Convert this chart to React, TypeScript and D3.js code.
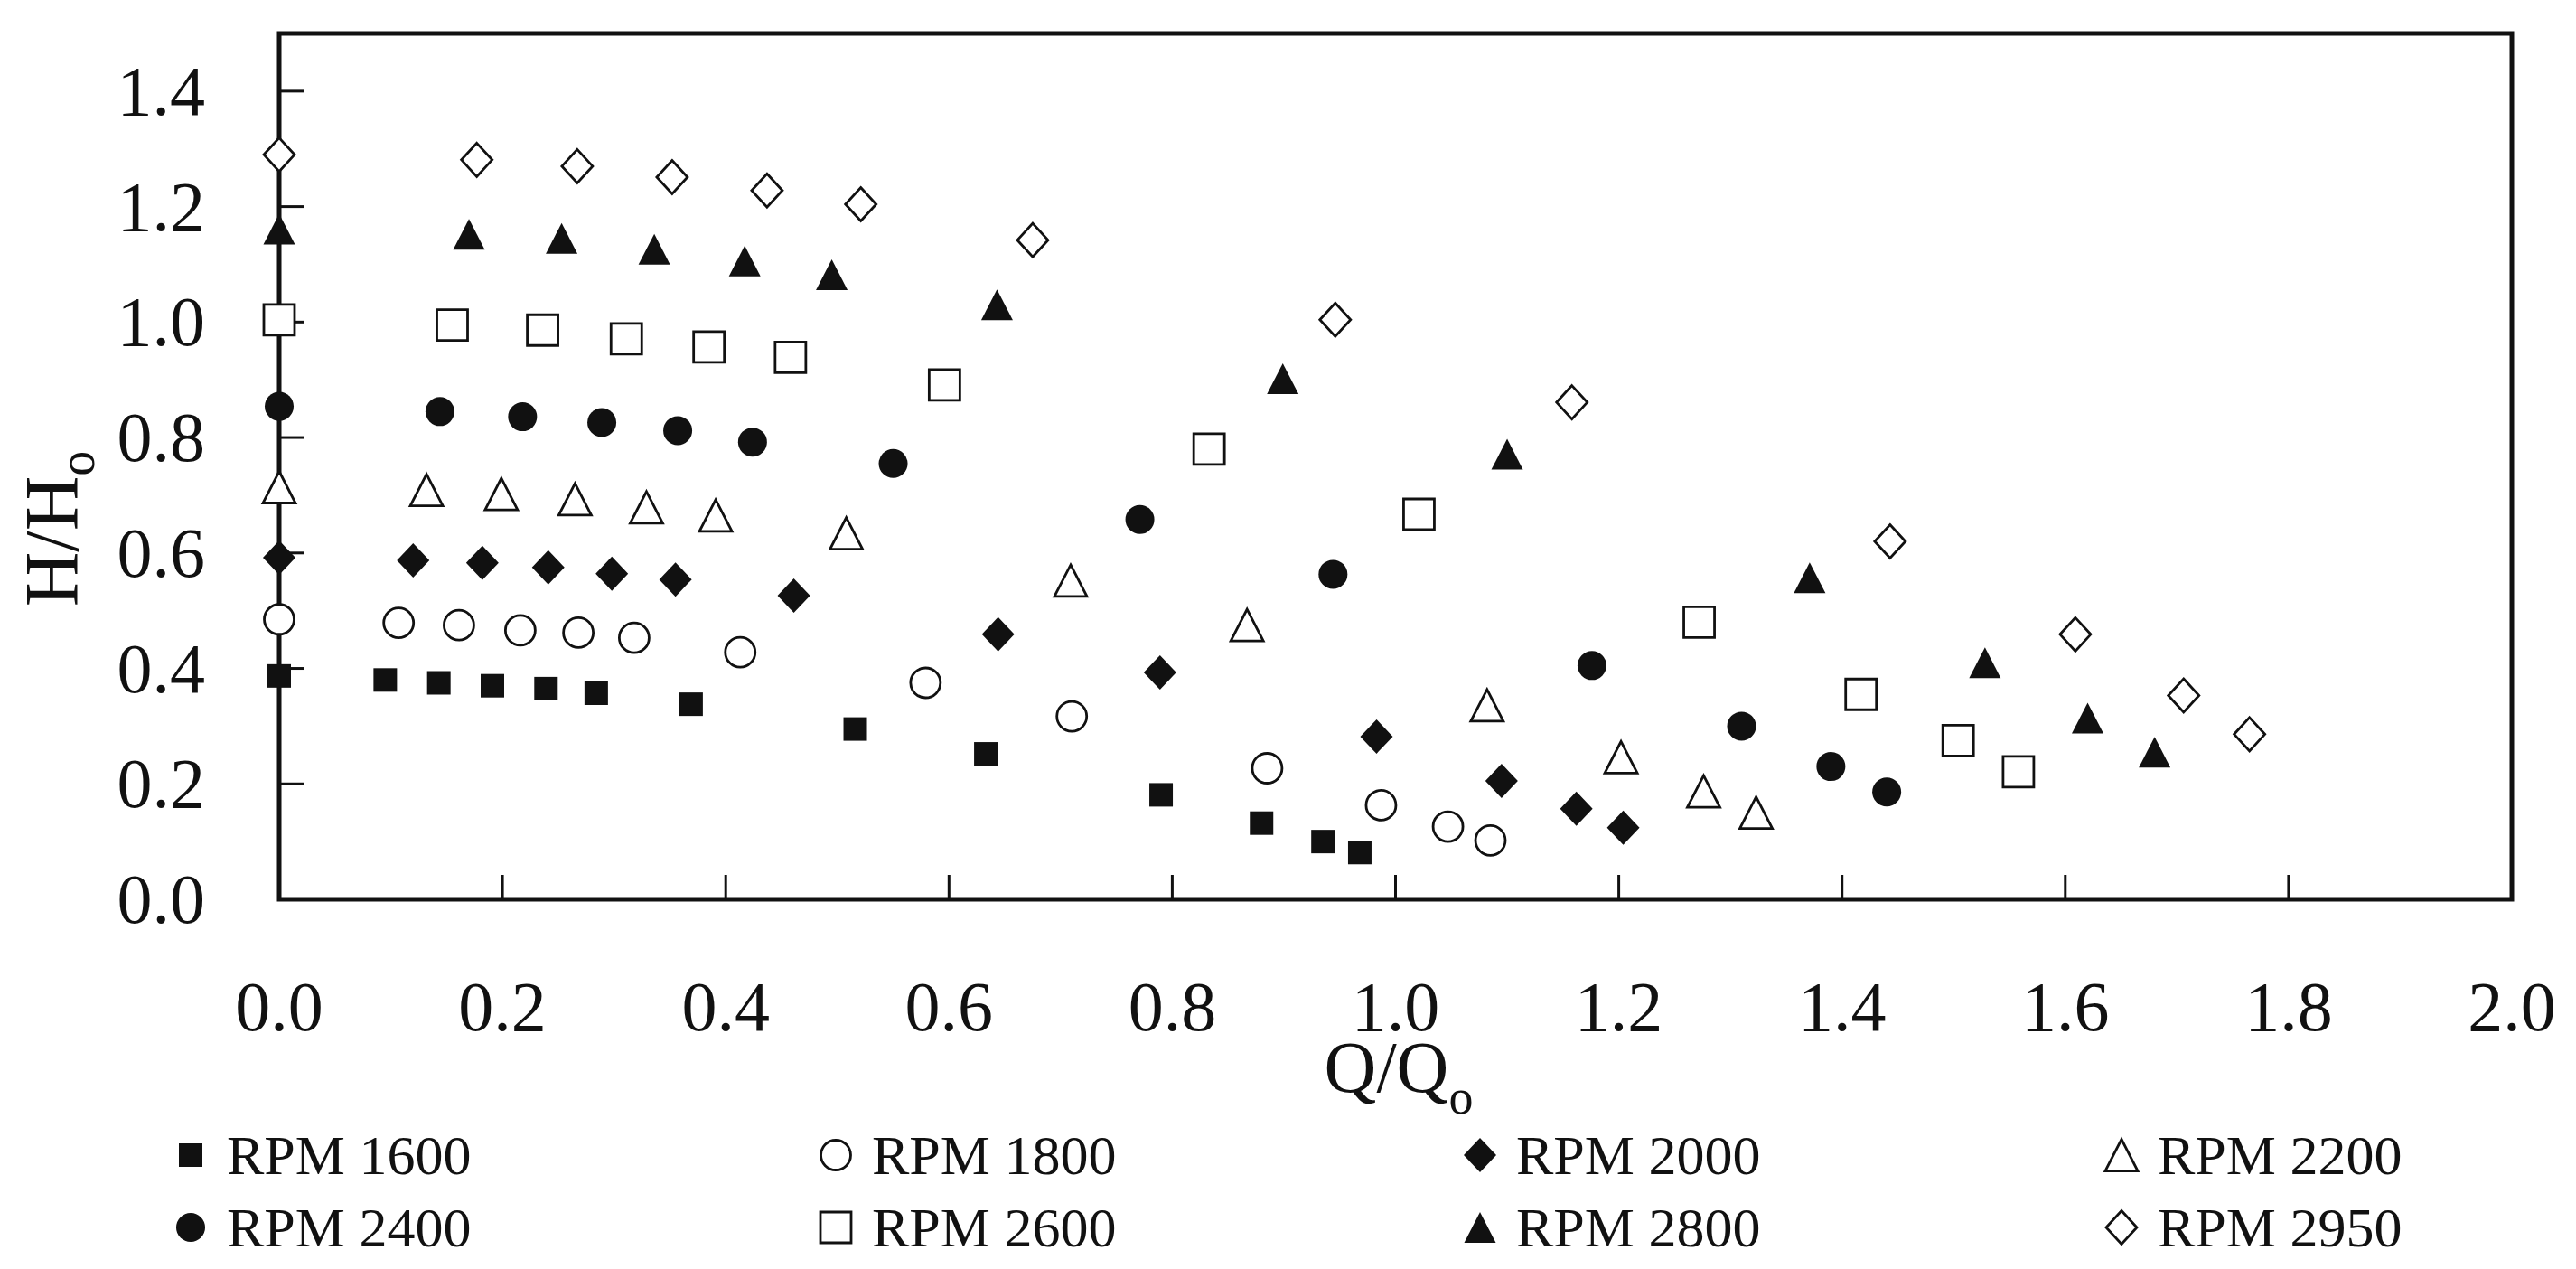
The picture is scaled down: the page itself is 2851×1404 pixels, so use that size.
import { useEffect, useRef } from 'react'
import * as d3 from 'd3'

const W = 2851
const H = 1404

const xTicks = [0, 0.2, 0.4, 0.6, 0.8, 1.0, 1.2, 1.4, 1.6, 1.8, 2.0]
const yTicks = [0, 0.2, 0.4, 0.6, 0.8, 1.0, 1.2, 1.4]

// Q/Qo and H/Ho, one pair per speed
const q1600 = [0, 0.095, 0.143, 0.191, 0.239, 0.284, 0.369, 0.516, 0.633, 0.790, 0.880, 0.935, 0.968]
const h1600 = [0.387, 0.380, 0.375, 0.370, 0.365, 0.357, 0.338, 0.295, 0.252, 0.181, 0.132, 0.100, 0.081]

const q1800 = [0, 0.107, 0.161, 0.216, 0.268, 0.318, 0.413, 0.579, 0.710, 0.885, 0.987, 1.047, 1.085]
const h1800 = [0.485, 0.479, 0.475, 0.466, 0.462, 0.453, 0.428, 0.375, 0.317, 0.227, 0.163, 0.126, 0.102]

const q2000 = [0, 0.120, 0.182, 0.241, 0.298, 0.355, 0.461, 0.644, 0.789, 0.983, 1.095, 1.162, 1.204]
const h2000 = [0.592, 0.587, 0.583, 0.575, 0.564, 0.554, 0.526, 0.459, 0.393, 0.282, 0.205, 0.157, 0.124]

const q2200 = [0, 0.132, 0.199, 0.265, 0.329, 0.391, 0.508, 0.709, 0.867, 1.082, 1.202, 1.276, 1.323]
const h2200 = [0.714, 0.709, 0.702, 0.693, 0.679, 0.665, 0.634, 0.552, 0.475, 0.336, 0.246, 0.187, 0.150]

const q2400 = [0, 0.144, 0.218, 0.289, 0.357, 0.424, 0.550, 0.771, 0.944, 1.176, 1.310, 1.390, 1.440]
const h2400 = [0.854, 0.845, 0.836, 0.826, 0.812, 0.792, 0.755, 0.658, 0.563, 0.405, 0.300, 0.230, 0.186]

const q2600 = [0, 0.155, 0.236, 0.311, 0.385, 0.458, 0.596, 0.833, 1.021, 1.272, 1.417, 1.504, 1.558]
const h2600 = [1.004, 0.995, 0.986, 0.971, 0.957, 0.939, 0.891, 0.780, 0.667, 0.480, 0.355, 0.275, 0.221]

const q2800 = [0, 0.170, 0.253, 0.336, 0.417, 0.495, 0.643, 0.899, 1.100, 1.371, 1.528, 1.620, 1.680]
const h2800 = [1.161, 1.152, 1.145, 1.126, 1.106, 1.082, 1.030, 0.902, 0.771, 0.557, 0.410, 0.314, 0.255]

const q2950 = [0, 0.177, 0.267, 0.352, 0.437, 0.521, 0.675, 0.946, 1.158, 1.443, 1.609, 1.706, 1.765]
const h2950 = [1.290, 1.281, 1.270, 1.251, 1.228, 1.204, 1.142, 1.004, 0.861, 0.620, 0.459, 0.353, 0.286]

const seriesLabels = ['RPM 1600', 'RPM 1800', 'RPM 2000', 'RPM 2200', 'RPM 2400', 'RPM 2600', 'RPM 2800', 'RPM 2950']

// custom marker outlines, "size" is not area here
const mkRect = (w: number, h: number) => ({
  draw(ctx: any) { ctx.rect(-w / 2, -h / 2, w, h) }
})
const mkCircle = (r: number) => ({
  draw(ctx: any) { ctx.moveTo(r, 0); ctx.arc(0, 0, r, 0, 2 * Math.PI) }
})
const mkDiamond = (w: number, h: number) => ({
  draw(ctx: any) {
    ctx.moveTo(0, -h / 2); ctx.lineTo(w / 2, 0); ctx.lineTo(0, h / 2); ctx.lineTo(-w / 2, 0); ctx.closePath()
  }
})
const mkTriangle = (w: number, h: number) => ({
  draw(ctx: any) {
    ctx.moveTo(0, -h / 2); ctx.lineTo(w / 2, h / 2); ctx.lineTo(-w / 2, h / 2); ctx.closePath()
  }
})

const series = [
  { q: q1600, h: h1600, type: mkRect(26, 26), filled: true },
  { q: q1800, h: h1800, type: mkCircle(16.5), filled: false },
  { q: q2000, h: h2000, type: mkDiamond(36, 38), filled: true },
  { q: q2200, h: h2200, type: mkTriangle(36, 35), filled: false },
  { q: q2400, h: h2400, type: mkCircle(16), filled: true },
  { q: q2600, h: h2600, type: mkRect(34, 34), filled: false },
  { q: q2800, h: h2800, type: mkTriangle(35, 34), filled: true },
  { q: q2950, h: h2950, type: mkDiamond(34, 37), filled: false },
]

const FONT = "'Liberation Serif', 'Times New Roman', serif"

export default function App() {
  const svgRef = useRef<SVGSVGElement>(null)

  useEffect(() => {
    const svg = d3.select(svgRef.current)
    svg.selectAll('*').remove()

    const left = 309, right = 2780, top = 37, bottom = 995
    const x = d3.scaleLinear().domain([0, 2]).range([left, right])
    const y = d3.scaleLinear().domain([0, 1.5]).range([bottom, top])
    const fmt = d3.format('.1f')

    svg.append('rect').attr('width', W).attr('height', H).attr('fill', '#fff')

    // inward ticks
    const tickLen = 27
    svg.append('g').selectAll('line')
      .data(xTicks.filter(d => d > 0 && d < 2))
      .join('line')
      .attr('x1', d => x(d)).attr('x2', d => x(d))
      .attr('y1', bottom).attr('y2', bottom - tickLen)
      .attr('stroke', '#111').attr('stroke-width', 3)
    svg.append('g').selectAll('line')
      .data(yTicks.filter(d => d > 0))
      .join('line')
      .attr('y1', d => y(d)).attr('y2', d => y(d))
      .attr('x1', left).attr('x2', left + tickLen)
      .attr('stroke', '#111').attr('stroke-width', 3)

    // frame
    svg.append('rect')
      .attr('x', left).attr('y', top)
      .attr('width', right - left).attr('height', bottom - top)
      .attr('fill', 'none').attr('stroke', '#111').attr('stroke-width', 5)

    // tick labels
    svg.append('g').selectAll('text')
      .data(xTicks)
      .join('text')
      .attr('x', d => x(d)).attr('y', 1140)
      .attr('text-anchor', 'middle')
      .attr('font-family', FONT).attr('font-size', 78).attr('fill', '#111')
      .text(d => fmt(d))
    svg.append('g').selectAll('text')
      .data(yTicks)
      .join('text')
      .attr('x', 227).attr('y', d => y(d) + 26)
      .attr('text-anchor', 'end')
      .attr('font-family', FONT).attr('font-size', 78).attr('fill', '#111')
      .text(d => fmt(d))

    // axis titles
    const xt = svg.append('text')
      .attr('x', 1548).attr('y', 1208)
      .attr('text-anchor', 'middle')
      .attr('font-family', FONT).attr('font-size', 80).attr('fill', '#111')
    xt.append('tspan').text('Q/Q')
    xt.append('tspan').attr('dy', 24).attr('font-size', 54).text('o')

    const yt = svg.append('text')
      .attr('transform', 'translate(86,585) rotate(-90)')
      .attr('text-anchor', 'middle')
      .attr('font-family', FONT).attr('font-size', 84).attr('fill', '#111')
    yt.append('tspan').text('H/H')
    yt.append('tspan').attr('dy', 18).attr('font-size', 56).text('o')

    // data points
    series.forEach(s => {
      const sym = d3.symbol().type(s.type as any)
      svg.append('g').selectAll('path')
        .data(s.q.map((q, i) => [q, s.h[i]]))
        .join('path')
        .attr('transform', d => `translate(${x(d[0])},${y(d[1])})`)
        .attr('d', sym as any)
        .attr('fill', s.filled ? '#111' : '#fff')
        .attr('stroke', '#111')
        .attr('stroke-width', s.filled ? 0 : 2.8)
    })

    // legend
    const colX = [211, 925, 1638, 2348]
    const rowY = [1278, 1358]
    const lg = svg.append('g').selectAll('g')
      .data(series)
      .join('g')
      .attr('transform', (_, i) => `translate(${colX[i % 4]},${rowY[Math.floor(i / 4)]})`)
    lg.append('path')
      .attr('d', s => d3.symbol().type(s.type as any)() as string)
      .attr('fill', s => s.filled ? '#111' : '#fff')
      .attr('stroke', '#111')
      .attr('stroke-width', s => s.filled ? 0 : 2.8)
    lg.append('text')
      .attr('x', 40).attr('y', 21)
      .attr('font-family', FONT).attr('font-size', 62).attr('fill', '#111')
      .text((_, i) => seriesLabels[i])
  }, [])

  return (
    <svg
      ref={svgRef}
      width={W}
      height={H}
      style={{ position: 'absolute', left: 0, top: 0, display: 'block' }}
    />
  )
}
